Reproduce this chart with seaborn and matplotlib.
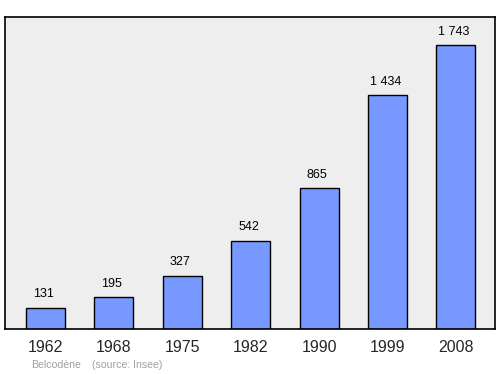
import matplotlib
matplotlib.use("Agg")
import matplotlib.pyplot as plt
import seaborn as sns
import pandas as pd

years = ["1962", "1968", "1975", "1982", "1990", "1999", "2008"]
population = [131, 195, 327, 542, 865, 1434, 1743]
value_labels = ["131", "195", "327", "542", "865", "1 434", "1 743"]

sns.set_style("white")
plt.rcParams['font.family'] = ['Liberation Sans', 'DejaVu Sans']

df = pd.DataFrame({"year": years, "pop": population})

fig = plt.figure(figsize=(5.0, 3.74), dpi=100)
ax = fig.add_axes([0.01, 0.1203, 0.98, 0.834])
ax.set_facecolor("#eeeeee")
sns.barplot(data=df, x="year", y="pop", ax=ax, color="#7799ff", saturation=1,
            width=0.57, edgecolor="black", linewidth=1)
ax.set_xlim(-0.59, 6.57)
ax.set_ylim(0, 1915)
for i, (v, lab) in enumerate(zip(population, value_labels)):
    ax.text(i - 0.03, v + 82, lab, ha="center", va="center", fontsize=9, color="black")
ax.set_yticks([])
ax.set_xlabel("")
ax.set_ylabel("")
ax.tick_params(axis="x", length=0, labelsize=11.5, pad=8)
for s in ax.spines.values():
    s.set_color("black")
    s.set_linewidth(1.2)
fig.text(31/500, 1 - 365/374, "Belcodène", fontsize=7.6, color="#a0a0a0", va="center", ha="left")
fig.text(92/500, 1 - 365/374, "(source: Insee)", fontsize=7.6, color="#a0a0a0", va="center", ha="left")
fig.savefig("out.png", dpi=100, facecolor="white")
